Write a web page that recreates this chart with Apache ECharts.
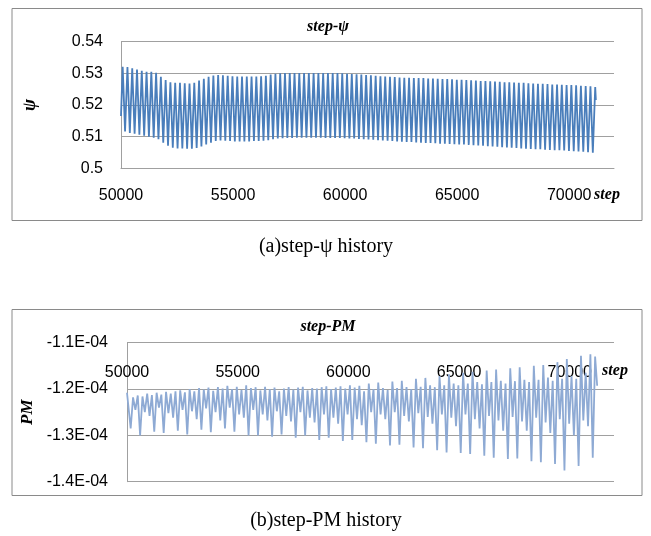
<!DOCTYPE html>
<html><head><meta charset="utf-8">
<script src="https://cdn.jsdelivr.net/npm/echarts@6/dist/echarts.min.js"></script>
<style>html,body{margin:0;padding:0;background:#fff}#c{width:651px;height:536px}</style>
</head><body><div id="c"></div>
<script>
// ---- top chart: step-psi (peaks and troughs of the oscillation) ----
const psiStart = [50000, 0.5165];
const psiPeakSteps = [50075,50288,50501,50714,50927,51140,51353,51566,51779,51992,52205,52418,52631,52844,53057,53270,53483,53696,53909,54122,54335,54548,54761,54974,55187,55400,55613,55826,56039,56252,56465,56678,56891,57104,57317,57530,57743,57956,58169,58382,58595,58808,59021,59234,59447,59660,59873,60086,60299,60512,60725,60938,61151,61364,61577,61790,62003,62216,62429,62642,62855,63068,63281,63494,63707,63920,64133,64346,64559,64772,64985,65198,65411,65624,65837,66050,66263,66476,66689,66902,67115,67328,67541,67754,67967,68180,68393,68606,68819,69032,69245,69458,69671,69884,70097,70310,70523,70736,70949,71162];
const psiPeakVals = [0.5321,0.5320,0.5316,0.5312,0.5308,0.5305,0.5305,0.5302,0.5289,0.5279,0.5272,0.5270,0.5270,0.5269,0.5268,0.5270,0.5277,0.5283,0.5289,0.5293,0.5295,0.5294,0.5292,0.5291,0.5290,0.5290,0.5290,0.5290,0.5290,0.5291,0.5292,0.5296,0.5299,0.5300,0.5301,0.5301,0.5301,0.5301,0.5301,0.5301,0.5301,0.5301,0.5301,0.5301,0.5301,0.5301,0.5300,0.5299,0.5298,0.5297,0.5296,0.5295,0.5294,0.5292,0.5291,0.5290,0.5289,0.5288,0.5287,0.5286,0.5286,0.5285,0.5285,0.5285,0.5284,0.5284,0.5283,0.5282,0.5282,0.5281,0.5280,0.5280,0.5279,0.5278,0.5277,0.5276,0.5276,0.5275,0.5274,0.5273,0.5272,0.5272,0.5271,0.5270,0.5270,0.5269,0.5268,0.5267,0.5267,0.5266,0.5265,0.5265,0.5264,0.5263,0.5263,0.5262,0.5261,0.5260,0.5259,0.5257];
const psiTroughSteps = [50181,50394,50607,50820,51033,51246,51459,51672,51885,52098,52311,52524,52737,52950,53163,53376,53589,53802,54015,54228,54441,54654,54867,55080,55293,55506,55719,55932,56145,56358,56571,56784,56997,57210,57423,57636,57849,58062,58275,58488,58701,58914,59127,59340,59553,59766,59979,60192,60405,60618,60831,61044,61257,61470,61683,61896,62109,62322,62535,62748,62961,63174,63387,63600,63813,64026,64239,64452,64665,64878,65091,65304,65517,65730,65943,66156,66369,66582,66795,67008,67221,67434,67647,67860,68073,68286,68499,68712,68925,69138,69351,69564,69777,69990,70203,70416,70629,70842,71055];
const psiTroughVals = [0.5116,0.5112,0.5109,0.5106,0.5103,0.5100,0.5097,0.5092,0.5081,0.5071,0.5065,0.5063,0.5063,0.5062,0.5062,0.5064,0.5069,0.5075,0.5081,0.5086,0.5088,0.5087,0.5086,0.5085,0.5085,0.5085,0.5085,0.5086,0.5086,0.5087,0.5089,0.5092,0.5094,0.5095,0.5096,0.5096,0.5097,0.5097,0.5097,0.5097,0.5097,0.5097,0.5096,0.5096,0.5096,0.5096,0.5095,0.5094,0.5094,0.5093,0.5092,0.5091,0.5090,0.5089,0.5088,0.5087,0.5086,0.5085,0.5084,0.5083,0.5083,0.5082,0.5081,0.5080,0.5080,0.5079,0.5078,0.5078,0.5077,0.5076,0.5075,0.5075,0.5074,0.5073,0.5072,0.5071,0.5070,0.5069,0.5068,0.5067,0.5066,0.5065,0.5064,0.5063,0.5062,0.5061,0.5060,0.5060,0.5059,0.5058,0.5057,0.5057,0.5056,0.5055,0.5054,0.5053,0.5052,0.5051,0.5049];
const psiEnd = [71190, 0.5216];
const psiTicks = [0.5, 0.51, 0.52, 0.53, 0.54];

// ---- bottom chart: step-PM (local maxima and minima) ----
const pmStart = [50000, -1.208e-4];
const pmPeakSteps = [50060,50273,50486,50699,50912,51125,51338,51551,51764,51977,52190,52403,52616,52829,53042,53255,53468,53681,53894,54107,54320,54533,54746,54959,55172,55385,55598,55811,56024,56237,56450,56663,56876,57089,57302,57515,57728,57941,58154,58367,58580,58793,59006,59219,59432,59645,59858,60071,60284,60497,60710,60923,61136,61349,61562,61775,61988,62201,62414,62627,62840,63053,63266,63479,63692,63905,64118,64331,64544,64757,64970,65183,65396,65609,65822,66035,66248,66461,66674,66887,67100,67313,67526,67739,67952,68165,68378,68591,68804,69017,69230,69443,69656,69869,70082,70295,70508,70721,70934,71147];
const pmPeakVals = [-1.212e-4,-1.218e-4,-1.214e-4,-1.216e-4,-1.210e-4,-1.213e-4,-1.208e-4,-1.212e-4,-1.206e-4,-1.210e-4,-1.205e-4,-1.203e-4,-1.207e-4,-1.200e-4,-1.205e-4,-1.198e-4,-1.201e-4,-1.197e-4,-1.204e-4,-1.196e-4,-1.199e-4,-1.193e-4,-1.200e-4,-1.195e-4,-1.202e-4,-1.192e-4,-1.198e-4,-1.196e-4,-1.203e-4,-1.195e-4,-1.200e-4,-1.197e-4,-1.205e-4,-1.199e-4,-1.196e-4,-1.201e-4,-1.197e-4,-1.195e-4,-1.203e-4,-1.198e-4,-1.199e-4,-1.196e-4,-1.194e-4,-1.200e-4,-1.197e-4,-1.194e-4,-1.199e-4,-1.192e-4,-1.197e-4,-1.193e-4,-1.205e-4,-1.188e-4,-1.200e-4,-1.186e-4,-1.198e-4,-1.202e-4,-1.184e-4,-1.198e-4,-1.182e-4,-1.196e-4,-1.200e-4,-1.178e-4,-1.195e-4,-1.176e-4,-1.192e-4,-1.196e-4,-1.172e-4,-1.192e-4,-1.168e-4,-1.188e-4,-1.192e-4,-1.165e-4,-1.188e-4,-1.163e-4,-1.185e-4,-1.190e-4,-1.160e-4,-1.185e-4,-1.158e-4,-1.182e-4,-1.188e-4,-1.155e-4,-1.183e-4,-1.153e-4,-1.180e-4,-1.185e-4,-1.150e-4,-1.180e-4,-1.148e-4,-1.175e-4,-1.182e-4,-1.142e-4,-1.178e-4,-1.135e-4,-1.172e-4,-1.178e-4,-1.128e-4,-1.165e-4,-1.125e-4,-1.130e-4];
const pmTroughSteps = [50166,50379,50592,50805,51018,51231,51444,51657,51870,52083,52296,52509,52722,52935,53148,53361,53574,53787,54000,54213,54426,54639,54852,55065,55278,55491,55704,55917,56130,56343,56556,56769,56982,57195,57408,57621,57834,58047,58260,58473,58686,58899,59112,59325,59538,59751,59964,60177,60390,60603,60816,61029,61242,61455,61668,61881,62094,62307,62520,62733,62946,63159,63372,63585,63798,64011,64224,64437,64650,64863,65076,65289,65502,65715,65928,66141,66354,66567,66780,66993,67206,67419,67632,67845,68058,68271,68484,68697,68910,69123,69336,69549,69762,69975,70188,70401,70614,70827,71040];
const pmTroughVals = [-1.285e-4,-1.245e-4,-1.300e-4,-1.250e-4,-1.258e-4,-1.292e-4,-1.240e-4,-1.295e-4,-1.252e-4,-1.262e-4,-1.290e-4,-1.245e-4,-1.298e-4,-1.248e-4,-1.265e-4,-1.288e-4,-1.242e-4,-1.293e-4,-1.250e-4,-1.268e-4,-1.285e-4,-1.240e-4,-1.292e-4,-1.255e-4,-1.262e-4,-1.300e-4,-1.245e-4,-1.300e-4,-1.255e-4,-1.268e-4,-1.303e-4,-1.248e-4,-1.298e-4,-1.258e-4,-1.270e-4,-1.305e-4,-1.250e-4,-1.300e-4,-1.262e-4,-1.272e-4,-1.310e-4,-1.255e-4,-1.305e-4,-1.262e-4,-1.275e-4,-1.312e-4,-1.255e-4,-1.310e-4,-1.265e-4,-1.278e-4,-1.315e-4,-1.250e-4,-1.318e-4,-1.255e-4,-1.265e-4,-1.322e-4,-1.250e-4,-1.320e-4,-1.258e-4,-1.270e-4,-1.326e-4,-1.252e-4,-1.328e-4,-1.260e-4,-1.275e-4,-1.332e-4,-1.255e-4,-1.337e-4,-1.262e-4,-1.280e-4,-1.338e-4,-1.255e-4,-1.340e-4,-1.265e-4,-1.285e-4,-1.344e-4,-1.258e-4,-1.348e-4,-1.268e-4,-1.290e-4,-1.351e-4,-1.260e-4,-1.350e-4,-1.270e-4,-1.290e-4,-1.356e-4,-1.262e-4,-1.358e-4,-1.272e-4,-1.295e-4,-1.362e-4,-1.265e-4,-1.376e-4,-1.275e-4,-1.300e-4,-1.366e-4,-1.268e-4,-1.280e-4,-1.348e-4];
const pmEnd = [71240, -1.193e-4];
const pmTicks = [-1.4e-4, -1.3e-4, -1.2e-4, -1.1e-4];
const stepTicks = [50000, 55000, 60000, 65000, 70000];

// build series data from the arrays
function zigzag(start, pS, pV, tS, tV, end) {
  const d = [start];
  for (let i = 0; i < pS.length; i++) {
    d.push([pS[i], pV[i]]);
    if (i < tS.length) d.push([tS[i], tV[i]]);
  }
  d.push(end);
  return d;
}
const psiData = zigzag(psiStart, psiPeakSteps, psiPeakVals, psiTroughSteps, psiTroughVals, psiEnd);
const pmData = zigzag(pmStart, pmPeakSteps, pmPeakVals, pmTroughSteps, pmTroughVals, pmEnd);

const gridCol = '#a0a0a0';
const lblFont = {color: '#000', fontFamily: 'Liberation Sans', fontSize: 16};
function pmFmt(v) {
  const e = Math.round(v * 1e5) / 10;
  return e.toFixed(1) + 'E-04';
}
const stepFmt = v => String(Math.round(v));
const chart = echarts.init(document.getElementById('c'), null, {renderer: 'canvas'});
chart.setOption({
  animation: false,
  backgroundColor: '#fff',
  grid: [
    {left: 121, top: 41.7, width: 493, height: 126.6},
    {left: 127, top: 342.7, width: 487, height: 139}
  ],
  xAxis: [
    {gridIndex: 0, type: 'value', min: stepTicks[0], max: 72000, interval: 5000,
     axisLine: {show: true, lineStyle: {color: gridCol}}, axisTick: {show: false},
     splitLine: {show: false}, axisLabel: Object.assign({margin: 19, showMaxLabel: false, formatter: stepFmt}, lblFont)},
    {gridIndex: 1, type: 'value', min: stepTicks[0], max: 72000, interval: 5000, offset: -125,
     axisLine: {show: false}, axisTick: {show: false},
     splitLine: {show: false}, axisLabel: Object.assign({margin: 8, showMaxLabel: false, formatter: stepFmt}, lblFont)}
  ],
  yAxis: [
    {gridIndex: 0, type: 'value', min: psiTicks[0], max: psiTicks[psiTicks.length-1], interval: 0.01,
     axisLine: {show: true, lineStyle: {color: gridCol}}, axisTick: {show: false},
     splitLine: {show: true, lineStyle: {color: gridCol, width: 1}},
     axisLabel: Object.assign({margin: 18, formatter: v => String(+v.toFixed(2))}, lblFont),
     name: 'ψ', nameLocation: 'middle', nameGap: 82, nameRotate: 90,
     nameTextStyle: {fontFamily: 'Liberation Serif', fontStyle: 'italic', fontWeight: 'bold', fontSize: 18, color: '#000'}},
    {gridIndex: 1, type: 'value', min: pmTicks[0], max: pmTicks[pmTicks.length-1], interval: 1e-5,
     axisLine: {show: true, lineStyle: {color: gridCol}}, axisTick: {show: false},
     splitLine: {show: true, lineStyle: {color: gridCol, width: 1}},
     axisLabel: Object.assign({margin: 19, formatter: pmFmt}, lblFont),
     name: 'PM', nameLocation: 'middle', nameGap: 82, nameRotate: 90,
     nameTextStyle: {fontFamily: 'Liberation Serif', fontStyle: 'italic', fontWeight: 'bold', fontSize: 17, color: '#000'}}
  ],
  series: [
    {type: 'line', xAxisIndex: 0, yAxisIndex: 0, data: psiData, showSymbol: false, symbol: 'none',
     lineStyle: {color: '#4a7ebb', width: 1.8}},
    {type: 'line', xAxisIndex: 1, yAxisIndex: 1, data: pmData, showSymbol: false, symbol: 'none',
     lineStyle: {color: '#8eaad4', width: 1.8}}
  ],
  graphic: [
    {type: 'rect', shape: {x: 12, y: 8.5, width: 630, height: 212}, style: {fill: 'none', stroke: '#8a8a8a', lineWidth: 1}},
    {type: 'rect', shape: {x: 12, y: 309.5, width: 630, height: 186}, style: {fill: 'none', stroke: '#8a8a8a', lineWidth: 1}},
    {type: 'text', x: 328, y: 27, style: {text: 'step-ψ', fontFamily: 'Liberation Serif', fontStyle: 'italic', fontWeight: 'bold', fontSize: 16, fill: '#000', textAlign: 'center', textVerticalAlign: 'middle'}},
    {type: 'text', x: 607, y: 195, style: {text: 'step', fontFamily: 'Liberation Serif', fontStyle: 'italic', fontWeight: 'bold', fontSize: 16, fill: '#000', textAlign: 'center', textVerticalAlign: 'middle'}},
    {type: 'text', x: 326, y: 247, style: {text: '(a)step-ψ history', fontFamily: 'Liberation Serif', fontSize: 20, fill: '#000', textAlign: 'center', textVerticalAlign: 'middle'}},
    {type: 'text', x: 328, y: 327, style: {text: 'step-PM', fontFamily: 'Liberation Serif', fontStyle: 'italic', fontWeight: 'bold', fontSize: 16, fill: '#000', textAlign: 'center', textVerticalAlign: 'middle'}},
    {type: 'text', x: 615, y: 371, style: {text: 'step', fontFamily: 'Liberation Serif', fontStyle: 'italic', fontWeight: 'bold', fontSize: 16, fill: '#000', textAlign: 'center', textVerticalAlign: 'middle'}},
    {type: 'text', x: 326, y: 521, style: {text: '(b)step-PM history', fontFamily: 'Liberation Serif', fontSize: 20, fill: '#000', textAlign: 'center', textVerticalAlign: 'middle'}}
  ]
});
</script></body></html>
